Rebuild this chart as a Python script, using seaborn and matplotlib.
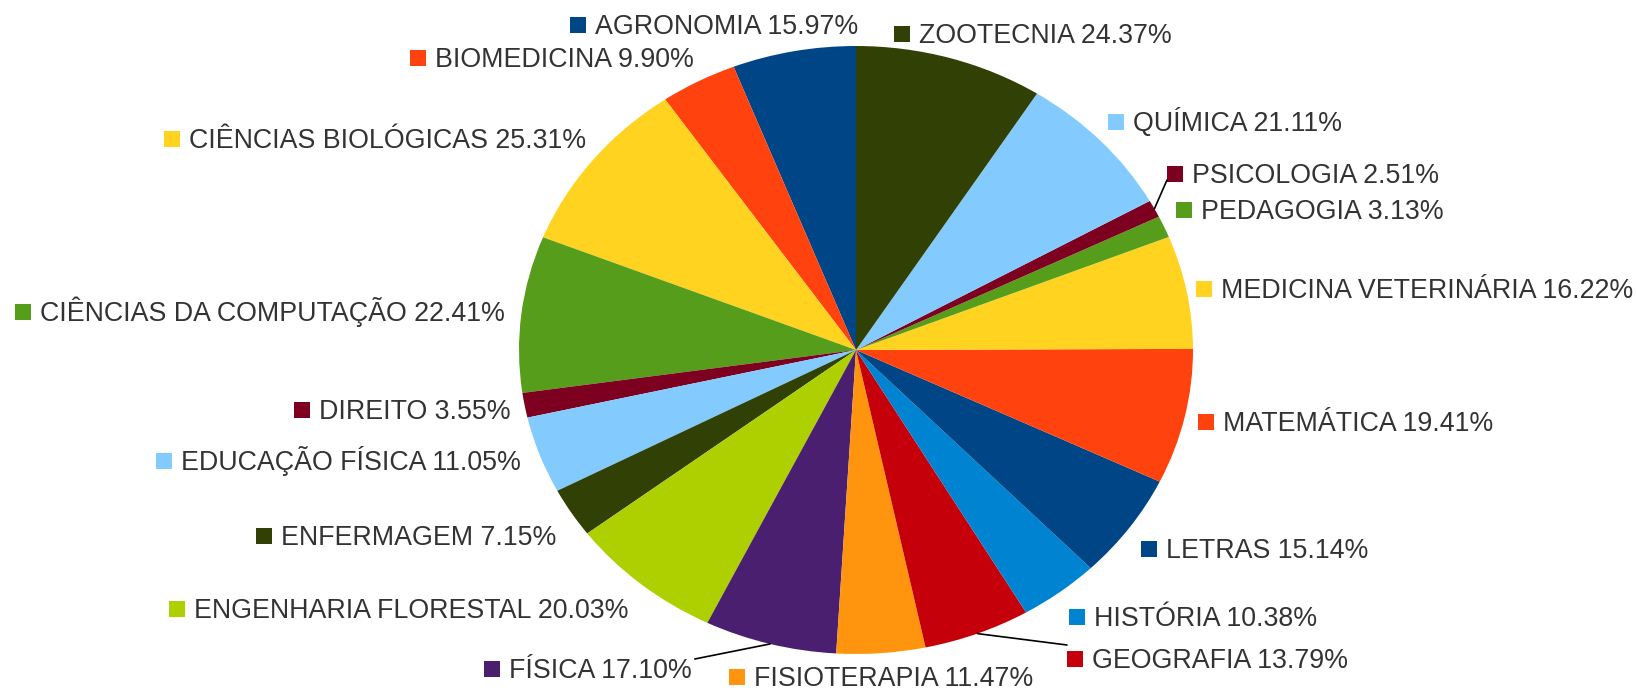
import matplotlib
matplotlib.use("Agg")
import numpy as np
import matplotlib.pyplot as plt
import seaborn as sns

# %%
cursos = ["AGRONOMIA", "BIOMEDICINA", "CIÊNCIAS BIOLÓGICAS", "CIÊNCIAS DA COMPUTAÇÃO",
          "DIREITO", "EDUCAÇÃO FÍSICA", "ENFERMAGEM", "ENGENHARIA FLORESTAL", "FÍSICA",
          "FISIOTERAPIA", "GEOGRAFIA", "HISTÓRIA", "LETRAS", "MATEMÁTICA",
          "MEDICINA VETERINÁRIA", "PEDAGOGIA", "PSICOLOGIA", "QUÍMICA", "ZOOTECNIA"]
percentuais = [15.97, 9.90, 25.31, 22.41, 3.55, 11.05, 7.15, 20.03, 17.10, 11.47,
               13.79, 10.38, 15.14, 19.41, 16.22, 3.13, 2.51, 21.11, 24.37]

# LibreOffice default chart palette, cycled
paleta = ["#004586", "#ff420e", "#ffd320", "#579d1c", "#7e0021", "#83caff",
          "#314004", "#aecf00", "#4b1f6f", "#ff950e", "#c5000b", "#0084d1"]

# label layout in figure pixels: (text start - 19, vertical centre)
pos_rotulos = {
    "AGRONOMIA": (576, 25), "BIOMEDICINA": (416, 58), "CIÊNCIAS BIOLÓGICAS": (170, 139),
    "CIÊNCIAS DA COMPUTAÇÃO": (21, 312), "DIREITO": (300, 410), "EDUCAÇÃO FÍSICA": (162, 461),
    "ENFERMAGEM": (262, 536), "ENGENHARIA FLORESTAL": (175, 609), "FÍSICA": (490, 669),
    "FISIOTERAPIA": (735, 677), "GEOGRAFIA": (1073, 659), "HISTÓRIA": (1075, 617),
    "LETRAS": (1147, 549), "MATEMÁTICA": (1204, 422), "MEDICINA VETERINÁRIA": (1202, 289),
    "PEDAGOGIA": (1182, 210), "PSICOLOGIA": (1173, 174), "QUÍMICA": (1114, 122),
    "ZOOTECNIA": (900, 34),
}
com_linha = ["PSICOLOGIA", "FÍSICA", "GEOGRAFIA"]

# %%
sns.set_theme(style="white")
plt.rcParams['font.family'] = ['Liberation Sans', 'DejaVu Sans']

W, H = 1637, 690
CX, CY, RX, RY = 856, 350, 337, 304   # pie centre and radii in pixels

fig = plt.figure(figsize=(W / 100, H / 100), dpi=100)
ax = fig.add_axes([0, 0, 1, 1])

cores = sns.color_palette(paleta, n_colors=len(cursos))
wedges, _ = ax.pie(percentuais, colors=cores, startangle=90, counterclock=True,
                   radius=1, wedgeprops=dict(linewidth=0))
ax.set_aspect('auto')
ax.set_xlim(-CX / RX, (W - CX) / RX)
ax.set_ylim((CY - H) / RY, CY / RY)
ax.axis('off')


def px2data(px, py):
    return (px - CX) / RX, (CY - py) / RY


# %%
fs = 19.3
textos = {}
for nome, pct, cor in zip(cursos, percentuais, cores):
    mx, my = pos_rotulos[nome]
    x0, y0 = px2data(mx + 2, my)
    ax.plot(x0, y0, marker='s', ms=11, mew=0, color=cor, linestyle='none', clip_on=False)
    tx, ty = px2data(mx + 19, my + 9)
    textos[nome] = ax.text(tx, ty, f"{nome} {pct:.2f}%", fontsize=fs, color='#333333',
                           ha='left', va='baseline', clip_on=False)

# leader lines for the thin / crowded slices
fig.canvas.draw()
inv = ax.transData.inverted()
for nome in com_linha:
    w = wedges[cursos.index(nome)]
    meio = np.deg2rad((w.theta1 + w.theta2) / 2)
    xs, ys = np.cos(meio), np.sin(meio)
    mx, my = pos_rotulos[nome]
    if nome == "FÍSICA":
        bb = textos[nome].get_window_extent()
        xe, _ = inv.transform((bb.x1 + 3, bb.y0))
        _, ye = px2data(mx, my - 10)
    elif nome == "GEOGRAFIA":
        xe, ye = px2data(mx - 6, my - 14)
    else:
        xe, ye = px2data(mx - 6, my + 6)
    ax.plot([xs, xe], [ys, ye], color='black', lw=1.2, clip_on=False)

fig.savefig("out.png", dpi=100)
